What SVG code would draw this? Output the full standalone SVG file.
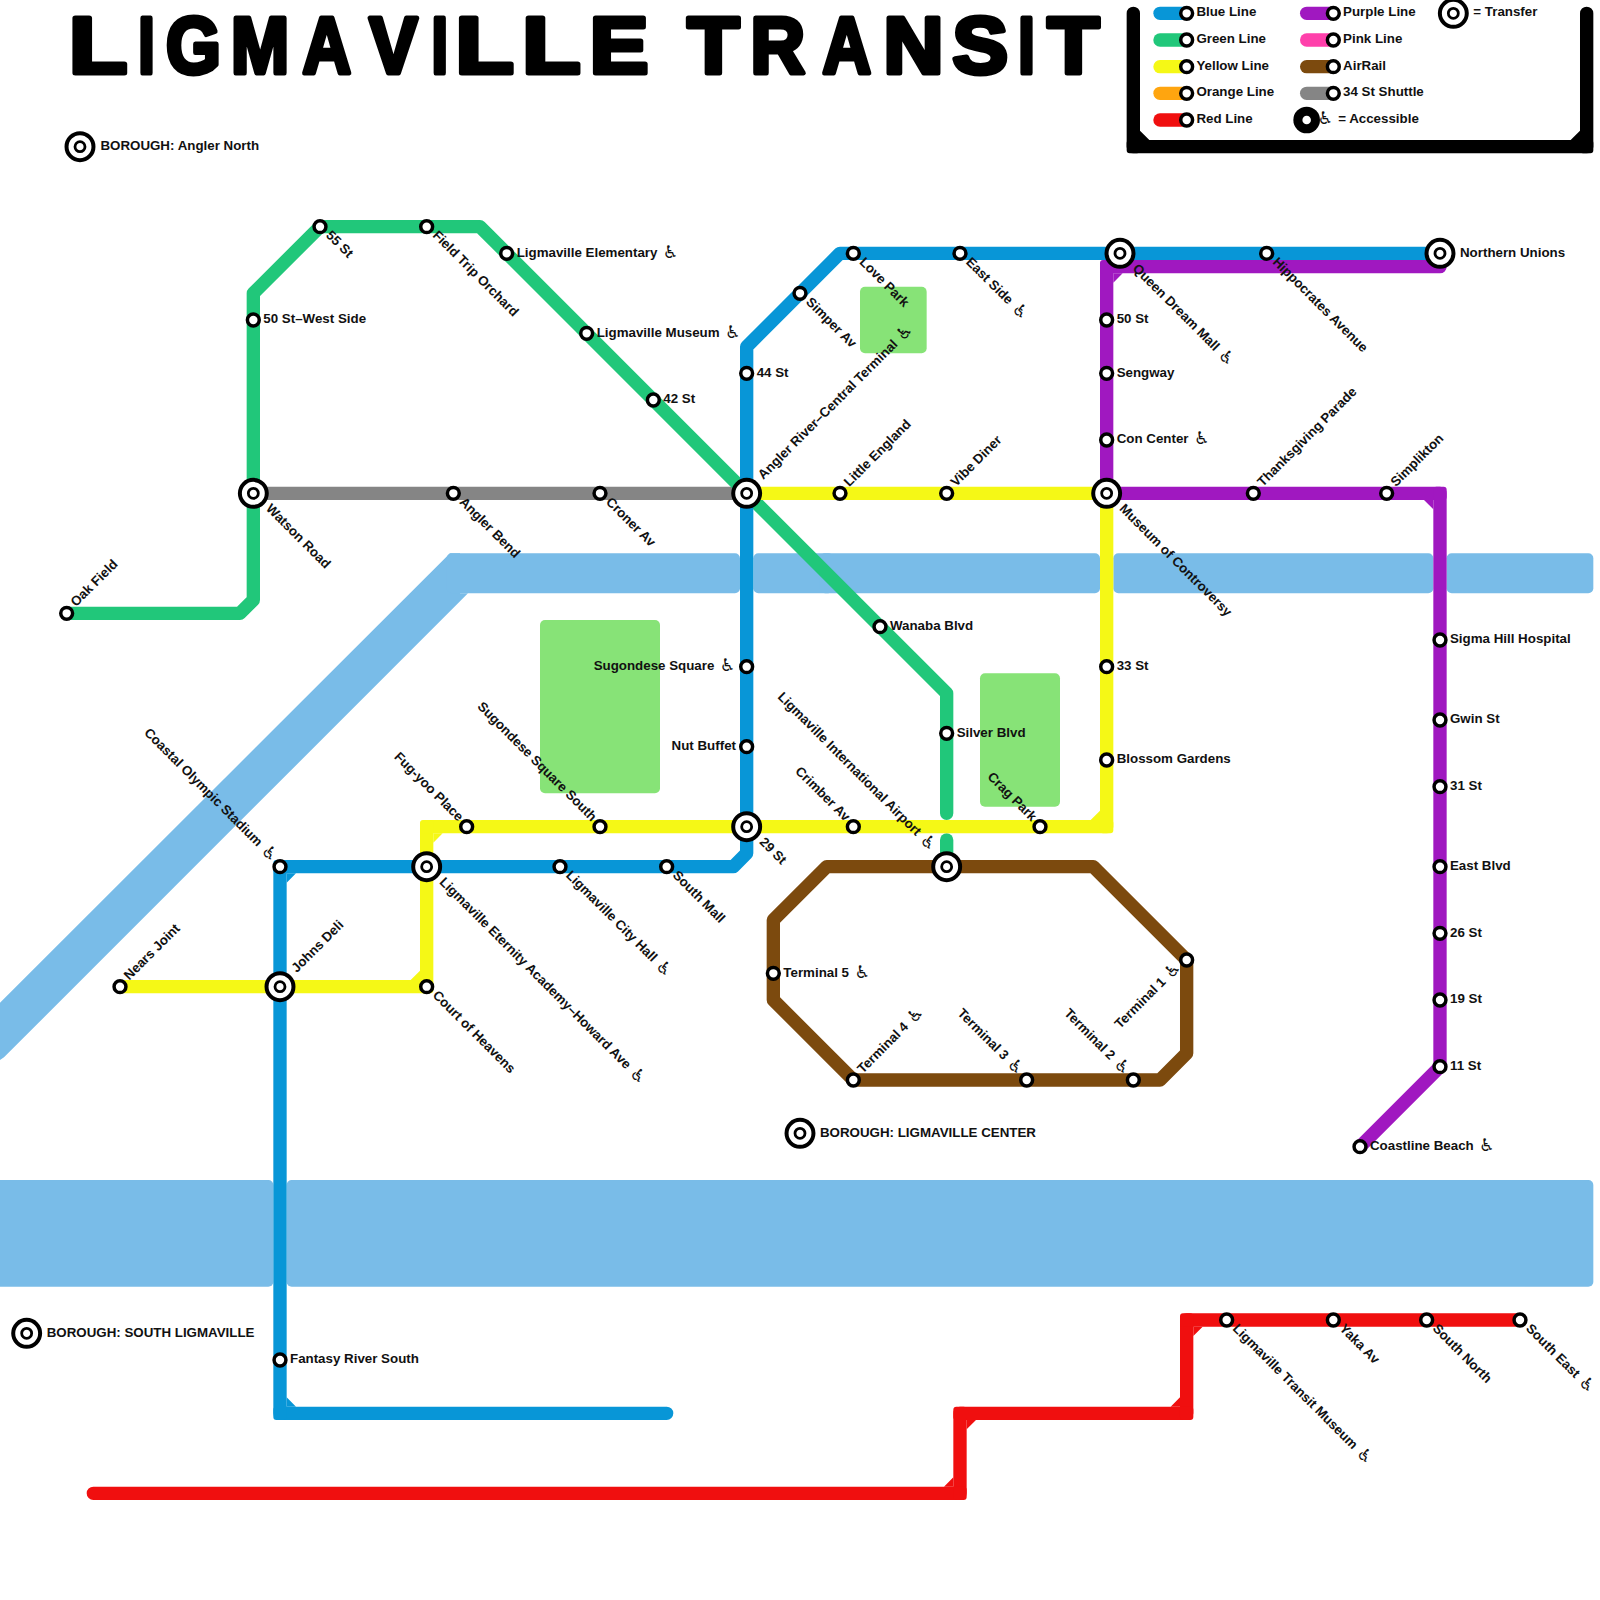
<svg xmlns="http://www.w3.org/2000/svg" width="1600" height="1600" viewBox="0 0 1600 1600">
<style>
text{font-family:"Liberation Sans","DejaVu Sans",sans-serif;font-weight:bold;fill:#111;white-space:pre}
.lbl text{font-size:10px}
.a{font-family:"DejaVu Sans",sans-serif;font-weight:normal;font-size:13px;baseline-shift:-.5px}
.title{font-size:80px;fill:#000;stroke:#000;stroke-width:5;stroke-linejoin:round;white-space:normal}
.ln{fill:none;stroke-width:10;stroke-linecap:round;stroke-linejoin:round}
.s{fill:#fff;stroke:#000;stroke-width:2.6}
.x{fill:#fff;stroke:#000;stroke-width:3}
.xi{fill:#fff;stroke:#000;stroke-width:2.1}
.w{fill:#79BCE8}
.p{fill:#87E377}
.blue{stroke:#0896D7}.green{stroke:#21C77A}.yellow{stroke:#F5F816}.purple{stroke:#A018C0}.brown{stroke:#7C4A0E}.gray{stroke:#858585}.red{stroke:#F00F0F}.pink{stroke:#FF40AB}.orange{stroke:#FFA50F}.black{stroke:#000}
</style>
<defs>
<path id="cnr" d="M-2.75-5H2.75A2.25 2.25 0 0 1 5-2.75V5H12L5 12V5H-2.75A2.25 2.25 0 0 1-5 2.75V-2.75A2.25 2.25 0 0 1-2.75-5Z"/>
<g id="xfer"><circle class="x" r="10.1"/><circle class="xi" r="3.75"/></g>
</defs>
<g id="water-parks" transform="scale(1.33333)">
<path class="w" d="M0 752L337.5 415H345V445H351L3 793L0 795Z"/>
<rect class="w" x="335" y="415" width="220" height="30" rx="3.75"/>
<rect class="w" x="565" y="415" width="60" height="30" rx="3.75"/>
<rect class="w" x="615" y="415" width="210" height="30" rx="3.75"/>
<rect class="w" x="835" y="415" width="240" height="30" rx="3.75"/>
<rect class="w" x="1085" y="415" width="110" height="30" rx="3.75"/>
<rect class="w" x="-5" y="885" width="210" height="80" rx="3.75"/>
<rect class="w" x="215" y="885" width="980" height="80" rx="3.75"/>
<rect class="p" x="645" y="215" width="50" height="50" rx="3.75"/>
<rect class="p" x="405" y="465" width="90" height="130" rx="3.75"/>
<rect class="p" x="735" y="505" width="60" height="100" rx="3.75"/>
</g>
<text id="title" class="title" y="72.5"><tspan x="68.9" textLength="58.2" lengthAdjust="spacingAndGlyphs">L</tspan><tspan x="138.3" textLength="16.5" lengthAdjust="spacingAndGlyphs">I</tspan><tspan x="166" textLength="54.8" lengthAdjust="spacingAndGlyphs">G</tspan><tspan x="230.9" textLength="58.1" lengthAdjust="spacingAndGlyphs">M</tspan><tspan x="302.5" textLength="48.5" lengthAdjust="spacingAndGlyphs">A</tspan><tspan x="369.2" textLength="48.3" lengthAdjust="spacingAndGlyphs">V</tspan><tspan x="431.6" textLength="16.5" lengthAdjust="spacingAndGlyphs">I</tspan><tspan x="455.5" textLength="58.2" lengthAdjust="spacingAndGlyphs">L</tspan><tspan x="522.2" textLength="58.2" lengthAdjust="spacingAndGlyphs">L</tspan><tspan x="589.7" textLength="58.6" lengthAdjust="spacingAndGlyphs">E</tspan> <tspan x="687.5" textLength="51.8" lengthAdjust="spacingAndGlyphs">T</tspan><tspan x="750.5" textLength="54.5" lengthAdjust="spacingAndGlyphs">R</tspan><tspan x="822.5" textLength="48.5" lengthAdjust="spacingAndGlyphs">A</tspan><tspan x="883.4" textLength="60" lengthAdjust="spacingAndGlyphs">N</tspan><tspan x="952.5" textLength="55.5" lengthAdjust="spacingAndGlyphs">S</tspan><tspan x="1018.3" textLength="16.5" lengthAdjust="spacingAndGlyphs">I</tspan><tspan x="1047.5" textLength="51.8" lengthAdjust="spacingAndGlyphs">T</tspan></text>
<g transform="scale(1.33333)">
<g id="connectors">
<path class="ln gray" d="M190 370H560"/>
<path class="ln brown" d="M710 650H820L890 720V790L870 810H640L580 750V690L620 650Z"/>
<path class="ln green" d="M50 460H180L190 450V220L240 170H360L710 520V610"/>
<path class="ln green" d="M710 630V650"/>
<path class="ln blue" d="M1080 190H630L560 260V640L550 650H210V1060H500"/>
<use href="#cnr" transform="translate(210 650)" fill="#0896D7"/>
<use href="#cnr" transform="translate(210 1060) rotate(270)" fill="#0896D7"/>
<path class="ln yellow" d="M560 370H830V620H320V740H90"/>
<use href="#cnr" transform="translate(830 620) rotate(180)" fill="#F5F816"/>
<use href="#cnr" transform="translate(320 620)" fill="#F5F816"/>
<use href="#cnr" transform="translate(320 740) rotate(180)" fill="#F5F816"/>
<path class="ln purple" d="M1080 190V200H830V370"/>
<use href="#cnr" transform="translate(830 200)" fill="#A018C0"/>
<path class="ln purple" d="M830 370H1080V800L1020 860"/>
<use href="#cnr" transform="translate(1080 370) rotate(90)" fill="#A018C0"/>
<path class="ln red" d="M70 1120H720V1060H890V990H1140"/>
<use href="#cnr" transform="translate(720 1120) rotate(180)" fill="#F00F0F"/>
<use href="#cnr" transform="translate(720 1060)" fill="#F00F0F"/>
<use href="#cnr" transform="translate(890 1060) rotate(180)" fill="#F00F0F"/>
<use href="#cnr" transform="translate(890 990)" fill="#F00F0F"/>
</g>
<g id="legend" class="lbl">
<path class="ln black" d="M850 10V110H1190V10"/>
<use href="#cnr" transform="translate(850 110) rotate(270)" fill="#000"/>
<use href="#cnr" transform="translate(1190 110) rotate(180)" fill="#000"/>
<path class="ln blue" d="M870 10H890"/><circle class="s" cx="890" cy="10" r="4.45"/><text x="897.3" y="12.3">Blue Line</text>
<path class="ln green" d="M870 30H890"/><circle class="s" cx="890" cy="30" r="4.45"/><text x="897.3" y="32.3">Green Line</text>
<path class="ln yellow" d="M870 50H890"/><circle class="s" cx="890" cy="50" r="4.45"/><text x="897.3" y="52.3">Yellow Line</text>
<path class="ln orange" d="M870 70H890"/><circle class="s" cx="890" cy="70" r="4.45"/><text x="897.3" y="72.3">Orange Line</text>
<path class="ln red" d="M870 90H890"/><circle class="s" cx="890" cy="90" r="4.45"/><text x="897.3" y="92.3">Red Line</text>
<path class="ln purple" d="M980 10H1000"/><circle class="s" cx="1000" cy="10" r="4.45"/><text x="1007.3" y="12.3">Purple Line</text>
<path class="ln pink" d="M980 30H1000"/><circle class="s" cx="1000" cy="30" r="4.45"/><text x="1007.3" y="32.3">Pink Line</text>
<path class="ln brown" d="M980 50H1000"/><circle class="s" cx="1000" cy="50" r="4.45"/><text x="1007.3" y="52.3">AirRail</text>
<path class="ln gray" d="M980 70H1000"/><circle class="s" cx="1000" cy="70" r="4.45"/><text x="1007.3" y="72.3">34 St Shuttle</text>
<use href="#xfer" x="1090" y="10"/><text x="1105" y="12.3">= Transfer</text>
<circle cx="980" cy="90" r="10"/><circle cx="980" cy="90" r="3.2" fill="#fff"/><text x="988.2" y="92.3"><tspan class="a">♿</tspan><tspan dx="1"> = Accessible</tspan></text>
</g>
<g class="lbl">
<g id="b-angler-north"><use href="#xfer" x="60" y="110"/><text x="75.3" y="112.5">BOROUGH: Angler North</text></g>
<g id="b-ligmaville-center"><use href="#xfer" x="600" y="850"/><text x="615" y="852.5">BOROUGH: LIGMAVILLE CENTER</text></g>
<g id="b-south-ligmaville"><use href="#xfer" x="20" y="1000"/><text x="35" y="1002.5">BOROUGH: SOUTH LIGMAVILLE</text></g>

<g id="oak-field"><circle class="s" cx="50" cy="460" r="4.45"/><text transform="translate(57 455.5) rotate(-45)">Oak Field</text></g>
<g id="fifty-st-west-side"><circle class="s" cx="190" cy="240" r="4.45"/><text x="197.5" y="242.5">50 St–West Side</text></g>
<g id="watson-road"><use href="#xfer" x="190" y="370"/><text transform="translate(199 382) rotate(45)">Watson Road</text></g>
<g id="fifty-five-st"><circle class="s" cx="240" cy="170" r="4.45"/><text transform="translate(244 177) rotate(45)">55 St</text></g>
<g id="field-trip-orchard"><circle class="s" cx="320" cy="170" r="4.45"/><text transform="translate(324 177) rotate(45)">Field Trip Orchard</text></g>
<g id="ligmaville-elementary"><circle class="s" cx="380" cy="190" r="4.45"/><text x="387.5" y="192.5">Ligmaville Elementary  <tspan class="a" dx="-1.5">♿</tspan></text></g>
<g id="ligmaville-museum"><circle class="s" cx="440" cy="250" r="4.45"/><text x="447.5" y="252.5">Ligmaville Museum  <tspan class="a" dx="-1.5">♿</tspan></text></g>
<g id="forty-two-st"><circle class="s" cx="490" cy="300" r="4.45"/><text x="497.5" y="302.5">42 St</text></g>
<g id="wanaba-blvd"><circle class="s" cx="660" cy="470" r="4.45"/><text x="667.5" y="472.5">Wanaba Blvd</text></g>
<g id="silver-blvd"><circle class="s" cx="710" cy="550" r="4.45"/><text x="717.5" y="552.5">Silver Blvd</text></g>

<g id="angler-bend"><circle class="s" cx="340" cy="370" r="4.45"/><text transform="translate(344 377) rotate(45)">Angler Bend</text></g>
<g id="croner-av"><circle class="s" cx="450" cy="370" r="4.45"/><text transform="translate(454 377) rotate(45)">Croner Av</text></g>

<g id="simper-av"><circle class="s" cx="600" cy="220" r="4.45"/><text transform="translate(604 227) rotate(45)">Simper Av</text></g>
<g id="love-park"><circle class="s" cx="640" cy="190" r="4.45"/><text transform="translate(644 197) rotate(45)">Love Park</text></g>
<g id="east-side"><circle class="s" cx="720" cy="190" r="4.45"/><text transform="translate(724 197) rotate(45)">East Side  <tspan class="a" dx="-1.5">♿</tspan></text></g>
<g id="queen-dream-mall"><use href="#xfer" x="840" y="190"/><text transform="translate(849 202) rotate(45)">Queen Dream Mall  <tspan class="a" dx="-1.5">♿</tspan></text></g>
<g id="hippocrates-avenue"><circle class="s" cx="950" cy="190" r="4.45"/><text transform="translate(954 197) rotate(45)">Hippocrates Avenue</text></g>
<g id="northern-unions"><use href="#xfer" x="1080" y="190"/><text x="1095" y="192.5">Northern Unions</text></g>
<g id="forty-four-st"><circle class="s" cx="560" cy="280" r="4.45"/><text x="567.5" y="282.5">44 St</text></g>
<g id="angler-river"><use href="#xfer" x="560" y="370"/><text transform="translate(572.5 360) rotate(-45)">Angler River–Central Terminal  <tspan class="a" dx="-1.5">♿</tspan></text></g>
<g id="sugondese-square"><circle class="s" cx="560" cy="500" r="4.45"/><text x="551.5" y="502.5" text-anchor="end">Sugondese Square  <tspan class="a" dx="-1.5">♿</tspan></text></g>
<g id="nut-buffet"><circle class="s" cx="560" cy="560" r="4.45"/><text x="552" y="562.5" text-anchor="end">Nut Buffet</text></g>
<g id="twenty-nine-st"><use href="#xfer" x="560" y="620"/><text transform="translate(569 632) rotate(45)">29 St</text></g>
<g id="south-mall"><circle class="s" cx="500" cy="650" r="4.45"/><text transform="translate(504 657) rotate(45)">South Mall</text></g>
<g id="ligmaville-city-hall"><circle class="s" cx="420" cy="650" r="4.45"/><text transform="translate(424 657) rotate(45)">Ligmaville City Hall  <tspan class="a" dx="-1.5">♿</tspan></text></g>
<g id="ligmaville-eternity"><use href="#xfer" x="320" y="650"/><text transform="translate(329 662) rotate(45)">Ligmaville Eternity Academy–Howard Ave  <tspan class="a" dx="-1.5">♿</tspan></text></g>
<g id="coastal-olympic"><circle class="s" cx="210" cy="650" r="4.45"/><text text-anchor="end" transform="translate(204 646.5) rotate(45)">Coastal Olympic Stadium  <tspan class="a" dx="-1.5">♿</tspan></text></g>
<g id="johns-deli"><use href="#xfer" x="210" y="740"/><text transform="translate(222.5 730) rotate(-45)">Johns Deli</text></g>
<g id="fantasy-river-south"><circle class="s" cx="210" cy="1020" r="4.45"/><text x="217.5" y="1022.5">Fantasy River South</text></g>

<g id="nears-joint"><circle class="s" cx="90" cy="740" r="4.45"/><text transform="translate(97 735.5) rotate(-45)">Nears Joint</text></g>
<g id="court-of-heavens"><circle class="s" cx="320" cy="740" r="4.45"/><text transform="translate(324 747) rotate(45)">Court of Heavens</text></g>
<g id="fug-yoo-place"><circle class="s" cx="350" cy="620" r="4.45"/><text text-anchor="end" transform="translate(343.5 616.5) rotate(45)">Fug-yoo Place</text></g>
<g id="sugondese-square-south"><circle class="s" cx="450" cy="620" r="4.45"/><text text-anchor="end" transform="translate(443.5 616.5) rotate(45)">Sugondese Square South</text></g>
<g id="crimber-av"><circle class="s" cx="640" cy="620" r="4.45"/><text text-anchor="end" transform="translate(633.5 616.5) rotate(45)">Crimber Av</text></g>
<g id="crag-park"><circle class="s" cx="780" cy="620" r="4.45"/><text text-anchor="end" transform="translate(773.5 616.5) rotate(45)">Crag Park</text></g>
<g id="blossom-gardens"><circle class="s" cx="830" cy="570" r="4.45"/><text x="837.5" y="572.5">Blossom Gardens</text></g>
<g id="thirty-three-st"><circle class="s" cx="830" cy="500" r="4.45"/><text x="837.5" y="502.5">33 St</text></g>
<g id="little-england"><circle class="s" cx="630" cy="370" r="4.45"/><text transform="translate(637 365.5) rotate(-45)">Little England</text></g>
<g id="vibe-diner"><circle class="s" cx="710" cy="370" r="4.45"/><text transform="translate(717 365.5) rotate(-45)">Vibe Diner</text></g>
<g id="museum-of-controversy"><use href="#xfer" x="830" y="370"/><text transform="translate(839 382) rotate(45)">Museum of Controversy</text></g>

<g id="fifty-st"><circle class="s" cx="830" cy="240" r="4.45"/><text x="837.5" y="242.5">50 St</text></g>
<g id="sengway"><circle class="s" cx="830" cy="280" r="4.45"/><text x="837.5" y="282.5">Sengway</text></g>
<g id="con-center"><circle class="s" cx="830" cy="330" r="4.45"/><text x="837.5" y="332.5">Con Center  <tspan class="a" dx="-1.5">♿</tspan></text></g>
<g id="thanksgiving-parade"><circle class="s" cx="940" cy="370" r="4.45"/><text transform="translate(947 365.5) rotate(-45)">Thanksgiving Parade</text></g>
<g id="simplikton"><circle class="s" cx="1040" cy="370" r="4.45"/><text transform="translate(1047 365.5) rotate(-45)">Simplikton</text></g>
<g id="sigma-hill-hospital"><circle class="s" cx="1080" cy="480" r="4.45"/><text x="1087.5" y="482.5">Sigma Hill Hospital</text></g>
<g id="gwin-st"><circle class="s" cx="1080" cy="540" r="4.45"/><text x="1087.5" y="542.5">Gwin St</text></g>
<g id="thirty-one-st"><circle class="s" cx="1080" cy="590" r="4.45"/><text x="1087.5" y="592.5">31 St</text></g>
<g id="east-blvd"><circle class="s" cx="1080" cy="650" r="4.45"/><text x="1087.5" y="652.5">East Blvd</text></g>
<g id="twenty-six-st"><circle class="s" cx="1080" cy="700" r="4.45"/><text x="1087.5" y="702.5">26 St</text></g>
<g id="nineteen-st"><circle class="s" cx="1080" cy="750" r="4.45"/><text x="1087.5" y="752.5">19 St</text></g>
<g id="eleven-st"><circle class="s" cx="1080" cy="800" r="4.45"/><text x="1087.5" y="802.5">11 St</text></g>
<g id="coastline-beach"><circle class="s" cx="1020" cy="860" r="4.45"/><text x="1027.5" y="862.5">Coastline Beach  <tspan class="a" dx="-1.5">♿</tspan></text></g>

<g id="ligmaville-international-airport"><use href="#xfer" x="710" y="650"/><text text-anchor="end" transform="translate(698 638.5) rotate(45)">Ligmaville International Airport  <tspan class="a" dx="-1.5">♿</tspan></text></g>
<g id="terminal-1"><circle class="s" cx="890" cy="720" r="4.45"/><text text-anchor="end" transform="translate(886 726) rotate(-45)">Terminal 1  <tspan class="a" dx="-1.5">♿</tspan></text></g>
<g id="terminal-2"><circle class="s" cx="850" cy="810" r="4.45"/><text text-anchor="end" transform="translate(843.5 806.5) rotate(45)">Terminal 2  <tspan class="a" dx="-1.5">♿</tspan></text></g>
<g id="terminal-3"><circle class="s" cx="770" cy="810" r="4.45"/><text text-anchor="end" transform="translate(763.5 806.5) rotate(45)">Terminal 3  <tspan class="a" dx="-1.5">♿</tspan></text></g>
<g id="terminal-4"><circle class="s" cx="640" cy="810" r="4.45"/><text transform="translate(647 805.5) rotate(-45)">Terminal 4  <tspan class="a" dx="-1.5">♿</tspan></text></g>
<g id="terminal-5"><circle class="s" cx="580" cy="730" r="4.45"/><text x="587.5" y="732.5">Terminal 5  <tspan class="a" dx="-1.5">♿</tspan></text></g>

<g id="ligmaville-transit-museum"><circle class="s" cx="920" cy="990" r="4.45"/><text transform="translate(924 997) rotate(45)">Ligmaville Transit Museum  <tspan class="a" dx="-1.5">♿</tspan></text></g>
<g id="yaka-av"><circle class="s" cx="1000" cy="990" r="4.45"/><text transform="translate(1004 997) rotate(45)">Yaka Av</text></g>
<g id="south-north"><circle class="s" cx="1070" cy="990" r="4.45"/><text transform="translate(1074 997) rotate(45)">South North</text></g>
<g id="south-east"><circle class="s" cx="1140" cy="990" r="4.45"/><text transform="translate(1144 997) rotate(45)">South East  <tspan class="a" dx="-1.5">♿</tspan></text></g>
</g>
</g>
</svg>
